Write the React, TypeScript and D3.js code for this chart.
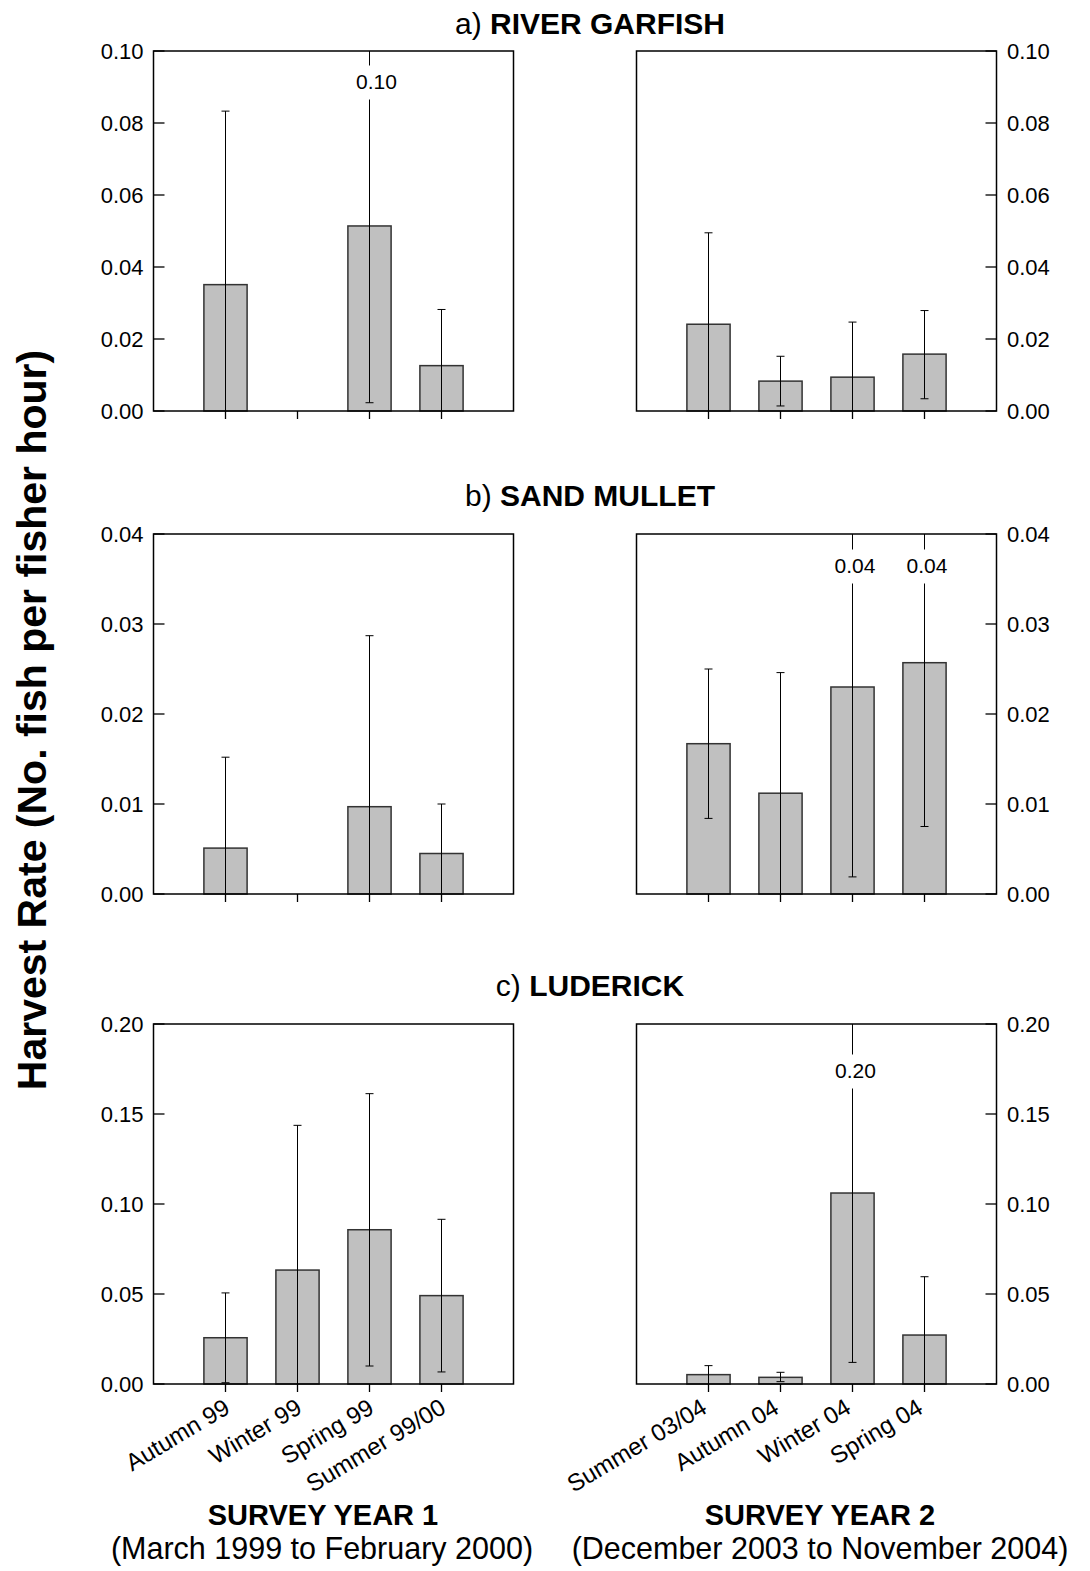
import React from "react";
import * as d3 from "d3";

const seasonsY1 = ["Autumn 99", "Winter 99", "Spring 99", "Summer 99/00"];
const seasonsY2 = ["Summer 03/04", "Autumn 04", "Winter 04", "Spring 04"];

// a) River garfish
const garfishY1Mean = [0.0351, null, 0.0514, 0.0126];
const garfishY1Upper = [0.0833, null, 0.1, 0.0282];
const garfishY1Lower = [null, null, 0.0023, null];
const garfishY2Mean = [0.0241, 0.0083, 0.0094, 0.0158];
const garfishY2Upper = [0.0495, 0.0152, 0.0247, 0.0279];
const garfishY2Lower = [null, 0.0014, null, 0.0034];

// b) Sand mullet
const mulletY1Mean = [0.0051, null, 0.0097, 0.0045];
const mulletY1Upper = [0.0152, null, 0.0287, 0.01];
const mulletY1Lower = [null, null, null, null];
const mulletY2Mean = [0.0167, 0.0112, 0.023, 0.0257];
const mulletY2Upper = [0.025, 0.0246, 0.04, 0.04];
const mulletY2Lower = [0.0084, null, 0.0019, 0.0075];

// c) Luderick
const luderickY1Mean = [0.0257, 0.0633, 0.0857, 0.0491];
const luderickY1Upper = [0.0506, 0.1437, 0.1613, 0.0915];
const luderickY1Lower = [0.0007, null, 0.01, 0.0067];
const luderickY2Mean = [0.0052, 0.0037, 0.1061, 0.0272];
const luderickY2Upper = [0.0102, 0.0065, 0.2, 0.0596];
const luderickY2Lower = [null, 0.0013, 0.012, null];

const garfishTicks = [0, 0.02, 0.04, 0.06, 0.08, 0.1];
const mulletTicks = [0, 0.01, 0.02, 0.03, 0.04];
const luderickTicks = [0, 0.05, 0.1, 0.15, 0.2];

const speciesPrefix = ["a) ", "b) ", "c) "];
const speciesNames = ["RIVER GARFISH", "SAND MULLET", "LUDERICK"];
const yearTitles = ["SURVEY YEAR 1", "SURVEY YEAR 2"];
const yearRanges = ["(March 1999 to February 2000)", "(December 2003 to November 2004)"];
const yAxisTitle = "Harvest Rate (No. fish per fisher hour)";

const FONT = "'Liberation Sans', Arial, Helvetica, sans-serif";
const W = 360;
const H = 360;
const LEFT_X = 153.5;
const RIGHT_X = 636.5;
const ROW_TOPS = [51, 534, 1024];
const TITLE_Y = [34, 506, 996];
const LABEL_OFFSET = [30.5, 31.5, 46.5];
const LABEL_DX = [7, 2.5, 3];
const fmt = d3.format(".2f");

type PanelProps = {
  x0: number;
  y0: number;
  side: "left" | "right";
  ticks: number[];
  means: (number | null)[];
  uppers: (number | null)[];
  lowers: (number | null)[];
  labels: string[] | null;
  labelOffset: number;
  labelDx: number;
};

function Panel({ x0, y0, side, ticks, means, uppers, lowers, labels, labelOffset, labelDx }: PanelProps) {
  const yMax = ticks[ticks.length - 1];
  const x = d3.scaleLinear().domain([0, means.length + 1]).range([x0, x0 + W]);
  const y = d3.scaleLinear().domain([0, yMax]).range([y0 + H, y0]);
  const step = x(1) - x(0);
  const bw = step * 0.6;
  const cap = 4;
  const labelY = y0 + labelOffset;
  return (
    <g>
      {means.map((m, i) =>
        m == null ? null : (
          <rect
            key={"b" + i}
            x={x(i + 1) - bw / 2}
            y={y(m)}
            width={bw}
            height={y(0) - y(m)}
            fill="#c0c0c0"
            stroke="#333"
            strokeWidth={1.5}
          />
        )
      )}
      {means.map((m, i) => {
        const up = uppers[i];
        if (m == null || up == null) return null;
        const lo = lowers[i];
        const cx = x(i + 1);
        const yLo = y(lo == null ? 0 : lo);
        const broken = up >= yMax;
        return (
          <g key={"e" + i} stroke="#000" strokeWidth={1}>
            {broken ? (
              <>
                <line x1={cx} x2={cx} y1={yLo} y2={labelY + 18} />
                <line x1={cx} x2={cx} y1={y0} y2={labelY - 16} />
                <text
                  x={cx + labelDx}
                  y={labelY}
                  dy="0.35em"
                  textAnchor="middle"
                  stroke="none"
                  fill="#000"
                  fontSize={21}
                  fontFamily={FONT}
                >
                  {fmt(up)}
                </text>
              </>
            ) : (
              <>
                <line x1={cx} x2={cx} y1={yLo} y2={y(up)} />
                <line x1={cx - cap} x2={cx + cap} y1={y(up)} y2={y(up)} />
              </>
            )}
            {lo != null && <line x1={cx - cap} x2={cx + cap} y1={yLo} y2={yLo} />}
          </g>
        );
      })}
      <rect x={x0} y={y0} width={W} height={H} fill="none" stroke="#000" strokeWidth={1.5} />
      {ticks.map((t, i) => {
        const ty = y(t);
        const edge = side === "left" ? x0 : x0 + W;
        const inner = side === "left" ? x0 + 11 : x0 + W - 11;
        return (
          <g key={"t" + i}>
            <line x1={edge} x2={inner} y1={ty} y2={ty} stroke="#000" strokeWidth={1.3} />
            <text
              x={side === "left" ? x0 - 10 : x0 + W + 10.5}
              y={ty}
              dy="0.35em"
              textAnchor={side === "left" ? "end" : "start"}
              fontSize={22}
              fontFamily={FONT}
              fill="#000"
            >
              {fmt(t)}
            </text>
          </g>
        );
      })}
      {means.map((_, i) => (
        <line
          key={"xt" + i}
          x1={x(i + 1)}
          x2={x(i + 1)}
          y1={y0 + H}
          y2={y0 + H + 8}
          stroke="#000"
          strokeWidth={1.3}
        />
      ))}
      {labels &&
        labels.map((lab, i) => (
          <text
            key={"xl" + i}
            transform={`translate(${x(i + 1) + (side === "left" ? 6 : 0)},${y0 + H + 28}) rotate(-31)`}
            textAnchor="end"
            fontSize={24}
            fontFamily={FONT}
            fill="#000"
          >
            {lab}
          </text>
        ))}
    </g>
  );
}

export default function App() {
  const rows = [
    {
      ticks: garfishTicks,
      y1: [garfishY1Mean, garfishY1Upper, garfishY1Lower],
      y2: [garfishY2Mean, garfishY2Upper, garfishY2Lower],
    },
    {
      ticks: mulletTicks,
      y1: [mulletY1Mean, mulletY1Upper, mulletY1Lower],
      y2: [mulletY2Mean, mulletY2Upper, mulletY2Lower],
    },
    {
      ticks: luderickTicks,
      y1: [luderickY1Mean, luderickY1Upper, luderickY1Lower],
      y2: [luderickY2Mean, luderickY2Upper, luderickY2Lower],
    },
  ];
  return (
    <svg
      width={1090}
      height={1571}
      style={{ position: "absolute", left: 0, top: 0, background: "#fff" }}
      fontFamily={FONT}
    >
      <rect x={0} y={0} width={1090} height={1571} fill="#fff" />
      {rows.map((r, ri) => (
        <g key={ri}>
          <text x={590} y={TITLE_Y[ri]} textAnchor="middle" fontSize={30} fill="#000">
            <tspan>{speciesPrefix[ri]}</tspan>
            <tspan fontWeight="bold">{speciesNames[ri]}</tspan>
          </text>
          <Panel
            x0={LEFT_X}
            y0={ROW_TOPS[ri]}
            side="left"
            ticks={r.ticks}
            means={r.y1[0]}
            uppers={r.y1[1]}
            lowers={r.y1[2]}
            labels={ri === 2 ? seasonsY1 : null}
            labelOffset={LABEL_OFFSET[ri]}
            labelDx={LABEL_DX[ri]}
          />
          <Panel
            x0={RIGHT_X}
            y0={ROW_TOPS[ri]}
            side="right"
            ticks={r.ticks}
            means={r.y2[0]}
            uppers={r.y2[1]}
            lowers={r.y2[2]}
            labels={ri === 2 ? seasonsY2 : null}
            labelOffset={LABEL_OFFSET[ri]}
            labelDx={LABEL_DX[ri]}
          />
        </g>
      ))}
      <text
        transform="translate(46,720) rotate(-90)"
        textAnchor="middle"
        fontSize={41}
        fontWeight="bold"
        fill="#000"
      >
        {yAxisTitle}
      </text>
      {[0, 1].map((k) => (
        <g key={"yr" + k}>
          <text x={k === 0 ? 323 : 820} y={1525} textAnchor="middle" fontSize={29} fontWeight="bold" fill="#000">
            {yearTitles[k]}
          </text>
          <text x={k === 0 ? 322 : 820} y={1559} textAnchor="middle" fontSize={30.5} fill="#000">
            {yearRanges[k]}
          </text>
        </g>
      ))}
    </svg>
  );
}
